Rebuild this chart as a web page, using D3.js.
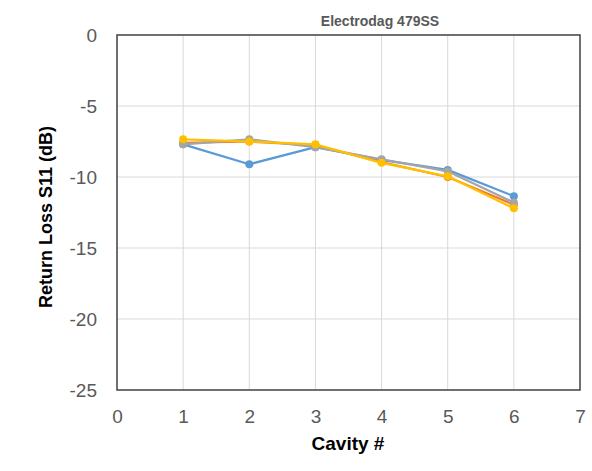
<!DOCTYPE html>
<html><head><meta charset="utf-8">
<script src="https://cdn.jsdelivr.net/npm/d3@7"></script>
<style>body{margin:0;background:#fff}svg{display:block}</style>
</head><body><svg id="c" width="592" height="471"></svg>
<script>
const cavities = [1, 2, 3, 4, 5, 6];
const seriesBlue   = [-7.7, -9.1, -7.9, -8.8, -9.5, -11.35];
const seriesOrange = [-7.6, -7.5, -7.75, -8.95, -10.0, -11.95];
const seriesGray   = [-7.7, -7.35, -7.9, -8.75, -9.6, -11.8];
const seriesYellow = [-7.35, -7.5, -7.7, -9.0, -9.95, -12.2];
const xTicks = [0, 1, 2, 3, 4, 5, 6, 7];
const yTicks = [0, -5, -10, -15, -20, -25];
const title = "Electrodag 479SS";
const xTitle = "Cavity #";
const yTitle = "Return Loss S11 (dB)";

const series = [
  {values: seriesBlue, color: "#5B9BD5"},
  {values: seriesOrange, color: "#ED7D31"},
  {values: seriesGray, color: "#A5A5A5"},
  {values: seriesYellow, color: "#FFC000"}
];

const svg = d3.select("#c");
const L = 117, R = 580, T = 35, B = 390;
const x = d3.scaleLinear().domain([0, 7]).range([L, R]);
const y = d3.scaleLinear().domain([-25, 0]).range([B, T]);
const font = "'Liberation Sans', Arial, sans-serif";

// gridlines
svg.append("g").selectAll("line.v").data(xTicks.slice(1, -1)).join("line")
  .attr("x1", d => x(d)).attr("x2", d => x(d)).attr("y1", T).attr("y2", B)
  .attr("stroke", "#D9D9D9").attr("stroke-width", 1);
svg.append("g").selectAll("line.h").data(yTicks.slice(1, -1)).join("line")
  .attr("x1", L).attr("x2", R).attr("y1", d => y(d)).attr("y2", d => y(d))
  .attr("stroke", "#D9D9D9").attr("stroke-width", 1);

// axes with labels
const xAxis = svg.append("g").attr("transform", `translate(0,${B})`)
  .call(d3.axisBottom(x).tickValues(xTicks).tickSize(0).tickPadding(20).tickFormat(d3.format("d")));
xAxis.select(".domain").remove();
xAxis.selectAll("text").attr("font-family", font).attr("font-size", 19).attr("fill", "#595959");

const yAxis = svg.append("g").attr("transform", `translate(${L},0)`)
  .call(d3.axisLeft(y).tickValues(yTicks).tickSize(0).tickPadding(20).tickFormat(d => d3.format("d")(d).replace("−", "-")));
yAxis.select(".domain").remove();
yAxis.selectAll("text").attr("font-family", font).attr("font-size", 19).attr("fill", "#595959");

// plot border
svg.append("rect").attr("x", L).attr("y", T).attr("width", R - L).attr("height", B - T)
  .attr("fill", "none").attr("stroke", "#404040").attr("stroke-width", 1.5);

// series
const line = d3.line().x((d, i) => x(cavities[i])).y(d => y(d));
series.forEach(s => {
  svg.append("path").datum(s.values).attr("d", line)
    .attr("fill", "none").attr("stroke", s.color).attr("stroke-width", 2.25)
    .attr("stroke-linejoin", "round");
  svg.append("g").selectAll("circle").data(s.values).join("circle")
    .attr("cx", (d, i) => x(cavities[i])).attr("cy", d => y(d)).attr("r", 4)
    .attr("fill", s.color);
});

// titles
svg.append("text").attr("x", 380).attr("y", 26).attr("text-anchor", "middle")
  .attr("font-family", font).attr("font-size", 14).attr("font-weight", "bold").attr("fill", "#595959")
  .text(title);
svg.append("text").attr("x", 348).attr("y", 450).attr("text-anchor", "middle")
  .attr("font-family", font).attr("font-size", 19).attr("font-weight", "bold").attr("fill", "#000")
  .text(xTitle);
svg.append("text").attr("transform", "translate(52,217) rotate(-90)").attr("text-anchor", "middle")
  .attr("font-family", font).attr("font-size", 18).attr("font-weight", "bold").attr("fill", "#000")
  .text(yTitle);
</script></body></html>
